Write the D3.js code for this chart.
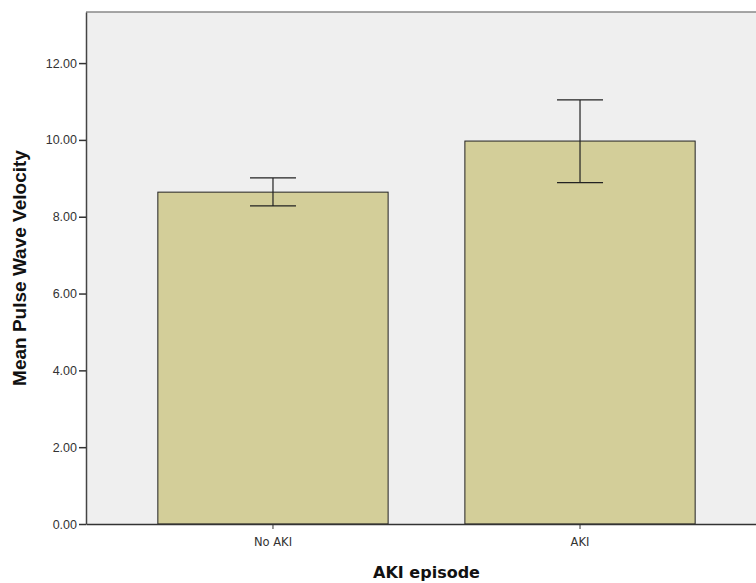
<!DOCTYPE html>
<html>
<head>
<meta charset="utf-8">
<script src="https://cdn.jsdelivr.net/npm/d3@7"></script>
<style>
  html, body { margin: 0; padding: 0; background: #fff; }
  svg { display: block; }
</style>
</head>
<body>
<svg id="chart" width="756" height="583"></svg>
<script>
// SPSS style bar chart with error bars (95% CI)
const categories = ['No AKI', 'AKI'];
const means = [8.64, 9.97];
const ciLow = [8.28, 8.89];
const ciHigh = [9.01, 11.04];
const yTicks = [0, 2, 4, 6, 8, 10, 12];

const W = 756, H = 583;
const m = { left: 86, top: 12, right: -11, bottom: 59 };
const pw = W - m.left - m.right, ph = H - m.top - m.bottom;

const svg = d3.select('#chart');
const g = svg.append('g').attr('transform', `translate(${m.left},${m.top})`);

const x = d3.scaleBand().domain(categories).range([0, pw])
  .paddingInner(0.25).paddingOuter(0.234);
const y = d3.scaleLinear().domain([0, 13.33]).range([ph, 0]);

// plot background
g.append('rect').attr('width', pw).attr('height', ph).attr('fill', '#efefef');

const rows = categories.map((c, i) => ({ c, v: means[i], lo: ciLow[i], hi: ciHigh[i] }));

g.selectAll('rect.bar').data(rows).join('rect').attr('class', 'bar')
  .attr('x', d => x(d.c)).attr('width', x.bandwidth())
  .attr('y', d => y(d.v)).attr('height', d => ph - y(d.v))
  .attr('fill', '#d3ce99').attr('stroke', '#222').attr('stroke-width', 1);

// error bars
const capW = 46;
const cx = d => x(d.c) + x.bandwidth() / 2;
const eb = g.selectAll('g.eb').data(rows).join('g').attr('class', 'eb')
  .attr('stroke', '#222').attr('stroke-width', 1.2);
eb.append('line').attr('x1', cx).attr('x2', cx)
  .attr('y1', d => y(d.hi)).attr('y2', d => y(d.lo));
eb.append('line').attr('x1', d => cx(d) - capW / 2).attr('x2', d => cx(d) + capW / 2)
  .attr('y1', d => y(d.hi)).attr('y2', d => y(d.hi));
eb.append('line').attr('x1', d => cx(d) - capW / 2).attr('x2', d => cx(d) + capW / 2)
  .attr('y1', d => y(d.lo)).attr('y2', d => y(d.lo));

// frame: top border grey
g.append('line').attr('x1', 0).attr('x2', pw).attr('y1', 0).attr('y2', 0)
  .attr('stroke', '#888').attr('stroke-width', 1.5);

// y axis
const yAx = g.append('g').call(d3.axisLeft(y).tickValues(yTicks).tickFormat(d3.format('.2f'))
  .tickSize(7).tickSizeOuter(0));
yAx.select('.domain').attr('stroke', '#444').attr('stroke-width', 1.5);
yAx.selectAll('.tick line').attr('stroke', '#333').attr('stroke-width', 1.5);
yAx.selectAll('.tick text').attr('x', -9).attr('fill', '#333')
  .style('font-family', 'Arial, "Liberation Sans", sans-serif').style('font-size', '12.5px');

// x axis
const xAx = g.append('g').attr('transform', `translate(0,${ph})`)
  .call(d3.axisBottom(x).tickSize(5).tickSizeOuter(0));
xAx.select('.domain').attr('stroke', '#333').attr('stroke-width', 1.5);
xAx.selectAll('.tick line').attr('stroke', '#333');
xAx.selectAll('.tick text').attr('y', 14).attr('fill', '#333')
  .style('font-family', '"DejaVu Sans", sans-serif').style('font-size', '11.5px');

// axis titles
svg.append('text').attr('x', m.left + pw / 2).attr('y', 578).attr('text-anchor', 'middle')
  .style('font-family', '"DejaVu Sans", sans-serif').style('font-size', '16px').style('font-weight', 'bold')
  .attr('fill', '#111').text('AKI episode');
svg.append('text').attr('transform', `translate(26,${m.top + ph / 2}) rotate(-90)`)
  .attr('text-anchor', 'middle')
  .style('font-family', 'Arial, "Liberation Sans", sans-serif').style('font-size', '19px').style('font-weight', 'bold')
  .attr('fill', '#111').text('Mean Pulse Wave Velocity');
</script>
</body>
</html>
